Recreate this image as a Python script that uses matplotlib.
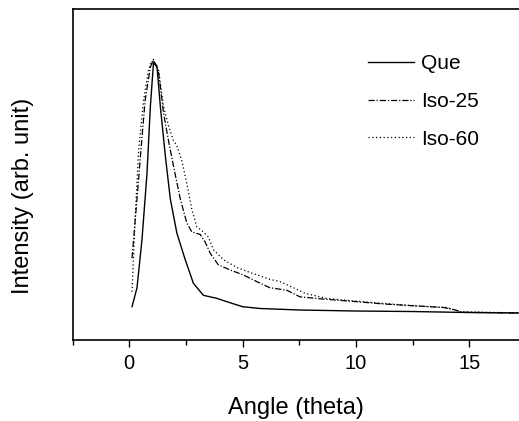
import matplotlib
matplotlib.use("Agg")
import matplotlib.pyplot as plt
from matplotlib.ticker import MultipleLocator

plt.rcParams["font.family"] = ["Liberation Sans", "DejaVu Sans"]

# Que (solid)
que_x = [0.12, 0.34, 0.56, 0.78, 0.93, 1.07, 1.22, 1.37, 1.59, 1.81, 2.1, 2.47,
         2.83, 3.27, 3.86, 4.3, 5.0, 5.77, 7.5, 10.0, 12.5, 15.0, 17.5]
que_y = [0.025, 0.10, 0.29, 0.55, 0.815, 0.99, 0.975, 0.815, 0.62, 0.45, 0.315, 0.21,
         0.117, 0.07, 0.058, 0.045, 0.025, 0.018, 0.012, 0.008, 0.006, 0.002, 0.0]

# Iso-25 (dash-dot)
iso25_x = [0.12, 0.34, 0.51, 0.7, 0.93, 1.07, 1.29, 1.51, 1.73, 1.95, 2.25, 2.54,
           2.76, 3.13, 3.35, 3.57, 3.93, 4.45, 5.04, 5.63, 6.2, 6.95, 7.53, 8.7,
           9.74, 11.2, 12.67, 13.85, 14.4, 14.7, 17.5]
iso25_y = [0.216, 0.45, 0.64, 0.84, 0.97, 1.0, 0.95, 0.79, 0.68, 0.58, 0.45, 0.355,
           0.32, 0.31, 0.28, 0.236, 0.19, 0.17, 0.15, 0.124, 0.10, 0.09, 0.064, 0.054,
           0.047, 0.036, 0.028, 0.022, 0.012, 0.003, 0.0]

# Iso-60 (dotted)
iso60_x = [0.12, 0.26, 0.41, 0.63, 0.85, 0.99, 1.29, 1.51, 1.73, 1.95, 2.1, 2.32,
           2.54, 2.76, 2.98, 3.27, 3.49, 3.71, 4.16, 4.74, 5.33, 6.2, 6.65, 7.24,
           7.75, 8.7, 9.74, 11.2, 12.67, 14.0, 14.6, 17.5]
iso60_y = [0.084, 0.38, 0.64, 0.84, 0.96, 0.995, 0.96, 0.815, 0.74, 0.68, 0.66, 0.60,
           0.51, 0.41, 0.34, 0.32, 0.30, 0.25, 0.21, 0.18, 0.16, 0.133, 0.124, 0.10,
           0.078, 0.058, 0.049, 0.038, 0.028, 0.022, 0.005, 0.0]

fig = plt.figure(figsize=(5.19, 4.21), dpi=100)
ax = fig.add_axes([0.140, 0.192, 0.86, 0.787])

ax.plot(que_x, que_y, color="black", lw=1.0, ls="-", label="Que")
ax.plot(iso25_x, iso25_y, color="black", lw=0.9, ls=(0, (5, 1.5, 1, 1.5)), label="Iso-25")
ax.plot(iso60_x, iso60_y, color="black", lw=0.9, ls=(0, (1, 2)), label="Iso-60")

ax.set_xlim(-2.5, 17.2)
ax.set_ylim(-0.107, 1.20)
ax.spines["right"].set_visible(False)
for s in ["left", "bottom", "top"]:
    ax.spines[s].set_linewidth(1.2)

ax.xaxis.set_major_locator(MultipleLocator(5))
ax.xaxis.set_minor_locator(MultipleLocator(2.5))
ax.tick_params(axis="x", which="major", direction="out", length=5, width=1.0, labelsize=14.5, pad=5)
ax.tick_params(axis="x", which="minor", direction="out", length=3.5, width=1.0)
ax.set_yticks([])

ax.set_xlabel("Angle (theta)", fontsize=17, labelpad=17)
# y label sits a little below the axes centre in the original
fig.text(23 / 519, 1 - 196 / 421, "Intensity (arb. unit)", fontsize=17,
         rotation=90, ha="center", va="center")

ax.legend(loc="upper left", bbox_to_anchor=(0.642, 0.888), frameon=False, fontsize=15,
          handlelength=2.25, handletextpad=0.33, labelspacing=0.9, borderaxespad=0)

fig.savefig("out.png", dpi=100)
